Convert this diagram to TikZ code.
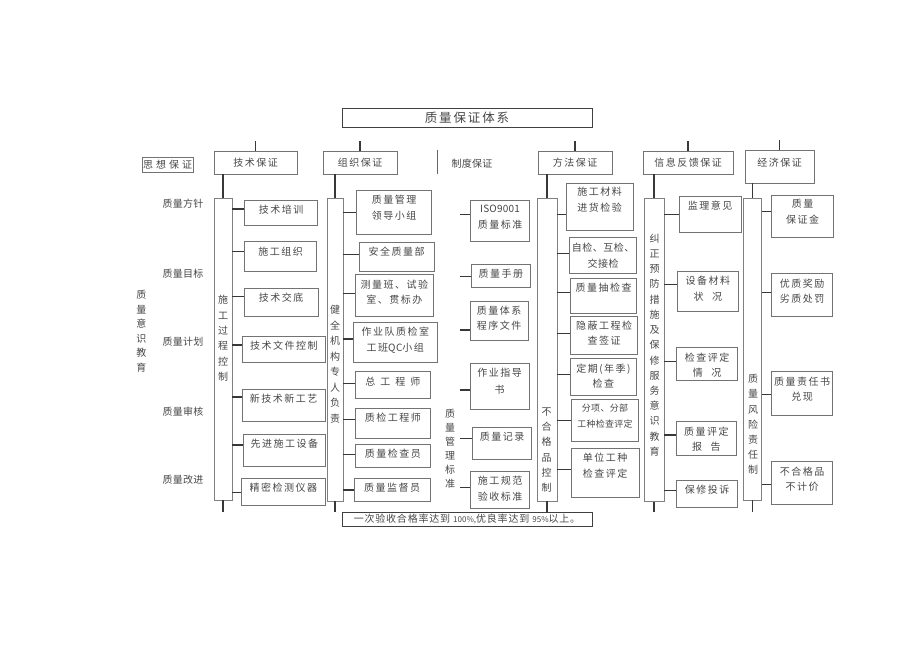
\documentclass[tikz,border=0pt]{standalone}
\usepackage{fontspec}
\setmainfont{Noto Sans CJK SC}[LetterSpace=15]
\newcommand\boxlines[1]{\begin{tabular}[t]{@{}c@{}}#1\end{tabular}}

\begin{document}
\begin{tikzpicture}[x=1pt, y=-1pt,
  every node/.style={font=\fontsize{10}{15.5}\selectfont, text=black!72},
  head/.style={draw=black!55, line width=0.7pt, minimum height=23, inner sep=0pt},
  box/.style={draw=black!55, line width=0.7pt, inner sep=0pt, anchor=base},
  bar/.style={draw=black!50, line width=0.7pt, minimum width=18, minimum height=302, inner sep=0pt},
  side/.style={align=center, inner sep=0pt},
  link/.style={draw=black!78, line width=1.1pt}]

\path[fill=white, use as bounding box] (0,0) rectangle (920,651);

% The title, the six guarantees and the goal.

\node[draw=black!75, line width=0.8pt, minimum width=250, minimum height=19, inner sep=0pt, font=\fontsize{12.5}{15}\selectfont] (title) at (467,117.5) {质量保证体系};
\node[head, minimum width=51, minimum height=15, font=\fontsize{10}{15.5}\selectfont\addfontfeature{LetterSpace=30}] (mind) at (167.5,164.5) {思想保证};
\node[head, minimum width=83] (tech) at (255.5,162.5) {技术保证};
\node[head, minimum width=74] (org) at (360,162.5) {组织保证};
\node[font=\fontsize{10}{15.5}\selectfont\addfontfeature{LetterSpace=3}] (rule) at (472,164) {制度保证};
\node[head, minimum width=74] (meth) at (575,162.5) {方法保证};
\node[head, minimum width=90] (info) at (688,162.5) {信息反馈保证};
\node[box, minimum width=69, text height=16.8, text depth=16.2] (econ) at (779.5,166.8) {经济保证};
\node[draw=black!75, line width=0.8pt, minimum width=250, minimum height=14, inner sep=0pt, font=\fontsize{10}{12}\selectfont\addfontfeature{LetterSpace=8}] (goal) at (467,519) {一次验收合格率达到 {\fontsize{8}{10}\selectfont\addfontfeature{LetterSpace=0}100\%,}优良率达到 {\fontsize{8}{10}\selectfont\addfontfeature{LetterSpace=0}95\%}以上。};

\coordinate (split) at (437,162);
\coordinate (rulex) at (460,0);

% Left labels.

\node[font=\fontsize{10}{15.5}\selectfont\addfontfeature{LetterSpace=3}] (policy) at (183,204) {质量方针};
\node[font=\fontsize{10}{15.5}\selectfont\addfontfeature{LetterSpace=3}] (target) at (183,273.3) {质量目标};
\node[font=\fontsize{10}{15.5}\selectfont\addfontfeature{LetterSpace=3}] (plan) at (183,341.7) {质量计划};
\node[font=\fontsize{10}{15.5}\selectfont\addfontfeature{LetterSpace=3}] (audit) at (183,411.7) {质量审核};
\node[font=\fontsize{10}{15.5}\selectfont\addfontfeature{LetterSpace=3}] (improve) at (183,480) {质量改进};
\node[side, font=\fontsize{10}{14.5}\selectfont] (mindv) at (141.3,331.2) {质\\量\\意\\识\\教\\育};

% The bars and their upright texts.

\node[bar] (techbar) at (223,349) {};
\node[bar, minimum width=16, minimum height=303] (orgbar) at (335,349.5) {};
\node[bar, minimum width=20, minimum height=303] (methbar) at (547,349.5) {};
\node[bar, minimum width=20, minimum height=303] (infobar) at (654,350) {};
\node[bar, minimum width=18.4] (econbar) at (752.5,349) {};

\node[side, font=\fontsize{10}{15.3}\selectfont] (techv) at (223,338.4) {施\\工\\过\\程\\控\\制};
\node[side, font=\fontsize{10}{15.5}\selectfont] (orgv) at (335,364.2) {健\\全\\机\\构\\专\\人\\负\\责};
\node[side, font=\fontsize{10}{14}\selectfont] (rulev) at (450,448.3) {质\\量\\管\\理\\标\\准};
\node[side, font=\fontsize{10}{15.3}\selectfont] (methv) at (546.7,450) {不\\合\\格\\品\\控\\制};
\node[side, font=\fontsize{10}{15.24}\selectfont] (infov) at (654.5,345) {纠\\正\\预\\防\\措\\施\\及\\保\\修\\服\\务\\意\\识\\教\\育};
\node[side, font=\fontsize{10}{15.2}\selectfont] (econv) at (753,424.5) {质\\量\\风\\险\\责\\任\\制};

% Technology column.

\node[box, minimum width=73.4, text height=13.5, text depth=11.5] (tech1) at (281,213.5) {技术培训};
\node[box, minimum width=72.4, text height=13.4, text depth=15.9] (tech2) at (280.5,255.1) {施工组织};
\node[box, minimum width=74, text height=13.5, text depth=15.2] (tech3) at (281,301.5) {技术交底};
\node[box, minimum width=82.3, text height=12.8, text depth=12.8] (tech4) at (283.9,349.5) {技术文件控制};
\node[box, minimum width=82.7, text height=12.8, text depth=18.9] (tech5) at (283.7,402.1) {新技术新工艺};
\node[box, minimum width=82.7, text height=13.8, text depth=18.9] (tech6) at (284.4,447.8) {先进施工设备};
\node[box, minimum width=84.7, text height=13.2, text depth=13.5] (tech7) at (283.4,491.5) {精密检测仪器};

% Organisation column.

\node[box, minimum width=75, text height=13.5, text depth=30.8] (org1) at (394.2,203.5) {\boxlines{质量管理\\领导小组}};
\node[box, minimum width=74.7, text height=13.2, text depth=15.5] (org2) at (396.7,255.5) {安全质量部};
\node[box, minimum width=78, text height=13.8, text depth=27.9] (org3) at (394.3,288.1) {\boxlines{测量班、试验\\室、贯标办}};
\node[box, minimum width=84, text height=13.5, text depth=26.5] (org4) at (395.3,335.8) {\boxlines{作业队质检室\\工班{\addfontfeature{LetterSpace=4}QC}小组}};
\node[box, minimum width=74.3, text height=13.4, text depth=13.2] (org5) at (392.9,385.1) {总\hspace{5pt}工\hspace{5pt}程\hspace{5pt}师};
\node[box, minimum width=74.3, text height=12.8, text depth=17.2] (org6) at (392.9,421.1) {质检工程师};
\node[box, minimum width=74.3, text height=13.2, text depth=9.8] (org7) at (392.9,457.5) {质量检查员};
\node[box, minimum width=75.7, text height=13.2, text depth=10.2] (org8) at (392.2,491.5) {质量监督员};

% Rules column.

\node[box, minimum width=58.6, text height=12.5, text depth=28.5] (rule1) at (500,212.5) {\boxlines{{\addfontfeature{LetterSpace=2}ISO9001}\\质量标准}};
\node[box, minimum width=58.3, text height=13.2, text depth=10.2] (rule2) at (500.9,277.5) {质量手册};
\node[box, minimum width=58.3, text height=13.1, text depth=25.9] (rule3) at (499.2,314.1) {\boxlines{质量体系\\程序文件}};
\node[box, minimum width=59.3, text height=13.5, text depth=32.5] (rule4) at (499.7,376.8) {\boxlines{作业指导\\[1.5pt]书}};
\node[box, minimum width=59.4, text height=13.1, text depth=18.2] (rule5) at (502,440.8) {质量记录};
\node[box, minimum width=58.6, text height=13.1, text depth=23.5] (rule6) at (500,484.8) {\boxlines{施工规范\\验收标准}};

% Method column.

\node[box, minimum width=67.3, text height=12.2, text depth=35.2] (meth1) at (599.7,195.5) {\boxlines{施工材料\\进货检验}};
\node[box, minimum width=67.4, text height=14.5, text depth=21.5, font=\fontsize{10}{15.5}\selectfont\addfontfeature{LetterSpace=5}] (meth2) at (603,251.8) {\boxlines{自检、互检、\\交接检}};
\node[box, minimum width=66, text height=13.2, text depth=21.8] (meth3) at (603.7,291.5) {质量抽检查};
\node[box, minimum width=66.6, text height=13.1, text depth=25.2] (meth4) at (604,329.1) {\boxlines{隐蔽工程检\\查签证}};
\node[box, minimum width=66.7, text height=13.8, text depth=22.9] (meth5) at (603.4,372.1) {\boxlines{定期(年季)\\检查}};
\node[box, minimum width=66.6, text height=11.8, text depth=29.9, font=\fontsize{9}{16.6}\selectfont\addfontfeature{LetterSpace=3}] (meth6) at (605,411.1) {\boxlines{分项、分部\\工种检查评定}};
\node[box, minimum width=68, text height=13.2, text depth=36.2] (meth7) at (605,461.5) {\boxlines{单位工种\\检查评定}};

% Feedback column.

\node[box, minimum width=61.7, text height=13.1, text depth=23.6] (info1) at (710.2,209.1) {监理意见};
\node[box, minimum width=61, text height=13.8, text depth=26.9] (info2) at (707.8,284.8) {\boxlines{设备材料\\状\hspace{8.5pt}况}};
\node[box, minimum width=61, text height=13.4, text depth=18.9] (info3) at (707.2,361.1) {\boxlines{检查评定\\情\hspace{8.5pt}况}};
\node[box, minimum width=60.7, text height=13.4, text depth=19.9] (info4) at (706.4,435.1) {\boxlines{质量评定\\报\hspace{8.5pt}告}};
\node[box, minimum width=61, text height=13.5, text depth=13.8] (info5) at (707.2,493.5) {保修投诉};

% Economy column.

\node[box, minimum width=61.6, text height=12.5, text depth=30.2] (econ1) at (802.5,207.5) {\boxlines{质量\\保证金}};
\node[box, minimum width=61, text height=13.8, text depth=28.9] (econ2) at (802.2,287.1) {\boxlines{优质奖励\\劣质处罚}};
\node[box, minimum width=61, text height=13.4, text depth=29.9] (econ3) at (802.2,385.1) {\boxlines{质量责任书\\兑现}};
\node[box, minimum width=61, text height=13.4, text depth=28.9] (econ4) at (802.2,475.1) {\boxlines{不合格品\\不计价}};

% Stubs above, links down to the bars and to the goal.

\draw[link] (tech.north) -- ([yshift=10]tech.north);
\draw[link] (org.north) -- ([yshift=10]org.north);
\draw[link] (meth.north) -- ([yshift=10]meth.north);
\draw[link] (info.north) -- ([yshift=10]info.north);
\draw[link] (econ.north) -- ([yshift=10]econ.north);
\draw[black!60, line width=0.8pt] ([yshift=12]split) -- ([yshift=-12]split);

\draw[link] (techbar.north) -- (techbar.north |- tech.south);
\draw[link] (orgbar.north) -- (orgbar.north |- org.south);
\draw[link] (methbar.north) -- (methbar.north |- meth.south);
\draw[link] (infobar.north) -- (infobar.north |- info.south);
\draw[link] (econbar.north) -- (econbar.north |- econ.south);

\draw[link] (techbar.south) -- (techbar.south |- goal.north);
\draw[link] (orgbar.south) -- (orgbar.south |- goal.north);
\draw[link] (methbar.south) -- (methbar.south |- goal.north);
\draw[link] (infobar.south) -- (infobar.south |- goal.north);
\draw[link] (econbar.south) -- (econbar.south |- goal.north);

% Links from the bars to the boxes.

\draw[link] ([yshift=3.5]tech1.west) -- ([yshift=3.5]tech1.west -| techbar.east);
\draw[link] ([yshift=5.3]tech2.west) -- ([yshift=5.3]tech2.west -| techbar.east);
\draw[link] ([yshift=5.6]tech3.west) -- ([yshift=5.6]tech3.west -| techbar.east);
\draw[link] ([yshift=4.5]tech4.west) -- ([yshift=4.5]tech4.west -| techbar.east);
\draw[link] ([yshift=8.2]tech5.west) -- ([yshift=8.2]tech5.west -| techbar.east);
\draw[link] ([yshift=5.4]tech6.west) -- ([yshift=5.4]tech6.west -| techbar.east);
\draw[link] ([yshift=-1]tech7.west) -- ([yshift=-1]tech7.west -| techbar.east);

\draw[link] ([yshift=-0.5]org1.west) -- ([yshift=-0.5]org1.west -| orgbar.east);
\draw[link] ([yshift=2.3]org2.west) -- ([yshift=2.3]org2.west -| orgbar.east);
\draw[link] ([yshift=1.9]org3.west) -- ([yshift=1.9]org3.west -| orgbar.east);
\draw[link] ([yshift=3.3]org4.west) -- ([yshift=3.3]org4.west -| orgbar.east);
\draw[link] ([yshift=1.7]org5.west) -- ([yshift=1.7]org5.west -| orgbar.east);
\draw[link] ([yshift=4]org6.west) -- ([yshift=4]org6.west -| orgbar.east);
\draw[link] ([yshift=1.5]org7.west) -- ([yshift=1.5]org7.west -| orgbar.east);
\draw[link] (org8.west) -- (org8.west -| orgbar.east);

\draw[link] ([yshift=6.2]rule1.west) -- ([yshift=6.2]rule1.west -| rulex);
\draw[link] ([yshift=-0.7]rule2.west) -- ([yshift=-0.7]rule2.west -| rulex);
\draw[link] ([yshift=-9.5]rule3.west) -- ([yshift=-9.5]rule3.west -| rulex);
\draw[link] ([yshift=-3.7]rule4.west) -- ([yshift=-3.7]rule4.west -| rulex);
\draw[link] ([yshift=5]rule5.west) -- ([yshift=5]rule5.west -| rulex);
\draw[link] ([yshift=2.3]rule6.west) -- ([yshift=2.3]rule6.west -| rulex);

\draw[link] ([yshift=-7.3]meth1.west) -- ([yshift=-7.3]meth1.west -| methbar.east);
\draw[link] ([yshift=2]meth2.west) -- ([yshift=2]meth2.west -| methbar.east);
\draw[link] ([yshift=3.5]meth3.west) -- ([yshift=3.5]meth3.west -| methbar.east);
\draw[link] ([yshift=1.8]meth4.west) -- ([yshift=1.8]meth4.west -| methbar.east);
\draw[link] ([yshift=2.3]meth5.west) -- ([yshift=2.3]meth5.west -| methbar.east);
\draw[link] ([yshift=-0.5]meth6.west) -- ([yshift=-0.5]meth6.west -| methbar.east);
\draw[link] ([yshift=3.7]meth7.west) -- ([yshift=3.7]meth7.west -| methbar.east);

\draw[link] ([yshift=0.3]info1.west) -- ([yshift=0.3]info1.west -| infobar.east);
\draw[link] ([yshift=7]info2.west) -- ([yshift=7]info2.west -| infobar.east);
\draw[link] ([yshift=2.2]info3.west) -- ([yshift=2.2]info3.west -| infobar.east);
\draw[link] ([yshift=3.4]info4.west) -- ([yshift=3.4]info4.west -| infobar.east);
\draw[link] ([yshift=3]info5.west) -- ([yshift=3]info5.west -| infobar.east);

\draw[link] ([yshift=4.7]econ1.west) -- ([yshift=4.7]econ1.west -| econbar.east);
\draw[link] ([yshift=2]econ2.west) -- ([yshift=2]econ2.west -| econbar.east);
\draw[link] ([yshift=-0.7]econ3.west) -- ([yshift=-0.7]econ3.west -| econbar.east);
\draw[link] ([yshift=-1.2]econ4.west) -- ([yshift=-1.2]econ4.west -| econbar.east);

\end{tikzpicture}
\end{document}
